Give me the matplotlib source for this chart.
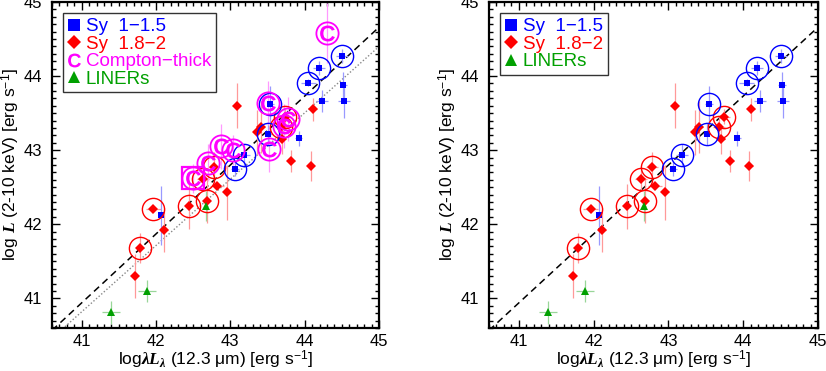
import numpy as np
import matplotlib
matplotlib.use("Agg")
import matplotlib.pyplot as plt
from matplotlib.ticker import MultipleLocator
from matplotlib.lines import Line2D

plt.rcParams['font.family'] = ['Liberation Sans', 'DejaVu Sans']
plt.rcParams['mathtext.fontset'] = 'custom'
plt.rcParams['mathtext.rm'] = 'Liberation Sans'
plt.rcParams['mathtext.it'] = 'Liberation Serif:italic:bold'
plt.rcParams['mathtext.bf'] = 'Liberation Sans:bold'

# ---------------- data ----------------
sy1_x = [44.50, 44.19, 44.05, 44.52, 44.23, 44.53, 43.54, 43.92, 43.51, 43.18, 43.06, 42.07]
sy1_y = [44.27, 44.11, 43.91, 43.88, 43.66, 43.66, 43.62, 43.16, 43.22, 42.94, 42.75, 42.12]
sy1_xerr = [0.08, 0.08, 0.10, 0.05, 0.08, 0.08, 0.05, 0.05, 0.05, 0.08, 0.05, 0.03]
sy1_yerr = [0.10, 0.10, 0.05, 0.18, 0.15, 0.22, 0.25, 0.10, 0.15, 0.15, 0.10, 0.40]
sy1_circled = [1, 1, 1, 0, 0, 0, 1, 0, 1, 1, 1, 0]

sy2_x = [43.09, 44.11, 43.74, 43.68, 43.36, 43.41, 43.70, 43.82, 44.08, 42.78, 42.63,
         42.82, 42.96, 42.44, 42.68, 41.96, 42.11, 41.79, 41.72]
sy2_y = [43.60, 43.55, 43.45, 43.31, 43.24, 43.31, 43.15, 42.85, 42.79, 42.77, 42.61,
         42.52, 42.43, 42.24, 42.32, 42.21, 41.92, 41.68, 41.30]
sy2_xerr = [0.03, 0.05, 0.08, 0.08, 0.05, 0.05, 0.05, 0.05, 0.05, 0.08, 0.08,
            0.10, 0.05, 0.05, 0.05, 0.10, 0.05, 0.05, 0.03]
sy2_yerr = [0.30, 0.15, 0.10, 0.15, 0.30, 0.35, 0.20, 0.15, 0.20, 0.20, 0.15,
            0.05, 0.37, 0.30, 0.30, 0.05, 0.30, 0.20, 0.30]
sy2_circled = [0, 0, 1, 1, 0, 0, 0, 0, 0, 1, 1, 0, 0, 1, 1, 1, 0, 1, 0]

liner_x = [42.67, 41.88, 41.39]
liner_y = [42.25, 41.10, 40.81]
liner_xerr = [0.03, 0.12, 0.12]
liner_yerr = [0.20, 0.15, 0.15]

ct_x = [44.30, 43.51, 43.78, 43.72, 43.52, 42.88, 43.04, 42.70, 42.50]
ct_y = [44.58, 43.64, 43.42, 43.33, 43.01, 43.05, 43.00, 42.83, 42.62]
ct_yerr = [0.40, 0.30, 0.30, 0.30, 0.30, 0.30, 0.20, 0.25, 0.20]
ct_boxed = [0, 0, 0, 0, 0, 0, 0, 0, 1]

# fitted relations
fit_slope, fit_x0, fit_y0 = 0.93, 43.0, 42.80       # dashed
alt_slope, alt_x0, alt_y0 = 0.895, 40.80, 40.64     # dotted (left panel)

xlim = (40.6, 45.0)
ylim = (40.6, 45.0)

BLUE, RED, GREEN, MAG = '#0000ff', '#ff0000', '#00a000', '#ff00ff'
LBLUE, LRED, LGREEN, LMAG = '#9999ff', '#ff9999', '#99d699', '#ff99ff'
CMARK = r'$\mathbf{C}$'

fig = plt.figure(figsize=(8.26, 3.71), dpi=100)
axL = fig.add_axes([52/826, 1-328/371, 327/826, 326/371])
axR = fig.add_axes([489/826, 1-328/371, 329/826, 326/371])


def base(ax, compton):
    xx = np.array(xlim)
    ax.plot(xx, fit_y0 + fit_slope*(xx-fit_x0), ls=(0, (4.5, 3)), color='k', lw=1.1, zorder=2)
    if compton:
        ax.plot(xx, alt_y0 + alt_slope*(xx-alt_x0), ls=(0, (1, 1.5)), color='#888888', lw=1.0, zorder=2)

    ax.errorbar(sy2_x, sy2_y, xerr=sy2_xerr, yerr=sy2_yerr, fmt='none', ecolor=LRED, elinewidth=0.9, zorder=3)
    ax.errorbar(sy1_x, sy1_y, xerr=sy1_xerr, yerr=sy1_yerr, fmt='none', ecolor=LBLUE, elinewidth=0.9, zorder=3)
    ax.errorbar(liner_x, liner_y, xerr=liner_xerr, yerr=liner_yerr, fmt='none', ecolor=LGREEN, elinewidth=0.9, zorder=3)
    if compton:
        ax.errorbar(ct_x, ct_y, yerr=ct_yerr, fmt='none', ecolor=LMAG, elinewidth=0.9, zorder=3)

    ax.plot(sy2_x, sy2_y, ls='none', marker='D', color=RED, ms=5.2, mew=0, zorder=5)
    ax.plot(sy1_x, sy1_y, ls='none', marker='s', color=BLUE, ms=5.0, mew=0, zorder=5)
    ax.plot(liner_x, liner_y, ls='none', marker='^', color=GREEN, ms=6.0, mew=0, zorder=5)

    cx = [x for x, c in zip(sy2_x, sy2_circled) if c]
    cy = [y for y, c in zip(sy2_y, sy2_circled) if c]
    ax.plot(cx, cy, ls='none', marker='o', mfc='none', mec=RED, ms=16, mew=1.0, zorder=6)
    cx = [x for x, c in zip(sy1_x, sy1_circled) if c]
    cy = [y for y, c in zip(sy1_y, sy1_circled) if c]
    ax.plot(cx, cy, ls='none', marker='o', mfc='none', mec=BLUE, ms=16, mew=1.0, zorder=6)

    if compton:
        ax.plot(ct_x, ct_y, ls='none', marker=CMARK, color=MAG, ms=11.5, mew=0, zorder=7)
        ax.plot(ct_x, ct_y, ls='none', marker='o', mfc='none', mec=MAG, ms=16, mew=1.3, zorder=7)
        bx = [x for x, b in zip(ct_x, ct_boxed) if b]
        by = [y for y, b in zip(ct_y, ct_boxed) if b]
        ax.plot(bx, by, ls='none', marker='s', mfc='none', mec=MAG, ms=16, mew=1.6, zorder=7)

    ax.set_xlim(*xlim)
    ax.set_ylim(*ylim)
    ax.xaxis.set_major_locator(MultipleLocator(1))
    ax.yaxis.set_major_locator(MultipleLocator(1))
    ax.xaxis.set_minor_locator(MultipleLocator(0.1))
    ax.yaxis.set_minor_locator(MultipleLocator(0.1))
    ax.tick_params(which='both', direction='in', top=True, right=True, width=1.0, labelsize=12)
    ax.tick_params(which='major', length=5.5)
    ax.tick_params(axis='x', which='major', pad=4)
    ax.tick_params(axis='y', which='major', pad=7)
    ax.tick_params(which='minor', length=3)
    for s in ax.spines.values():
        s.set_linewidth(1.6)
    ax.set_xlabel(r'log$\lambda L_\lambda$ (12.3 μm) [erg s$^{-1}$]', fontsize=12.5, labelpad=0)
    ax.set_ylabel(r'log $L$ (2-10 keV) [erg s$^{-1}$]', fontsize=12.5, labelpad=1)

    handles = [Line2D([], [], ls='none', marker='s', color=BLUE, ms=8, mew=0),
               Line2D([], [], ls='none', marker='D', color=RED, ms=7.5, mew=0)]
    labels = ['Sy  1\u22121.5', 'Sy  1.8\u22122']
    colors = [BLUE, RED]
    if compton:
        handles.append(Line2D([], [], ls='none', marker=CMARK, color=MAG, ms=10, mew=0))
        labels.append('Compton\u2212thick')
        colors.append(MAG)
    handles.append(Line2D([], [], ls='none', marker='^', color=GREEN, ms=8.5, mew=0))
    labels.append('LINERs')
    colors.append(GREEN)
    leg = ax.legend(handles, labels, loc='upper left', fontsize=13.5, frameon=True, fancybox=False,
                    edgecolor='k', handlelength=0.6, handletextpad=0.35, borderpad=0.25,
                    labelspacing=0.02, borderaxespad=0.6, bbox_to_anchor=(0.0, 1.0))
    leg.get_frame().set_linewidth(1.0)
    for t, c in zip(leg.get_texts(), colors):
        t.set_color(c)
    leg.set_zorder(10)


base(axL, True)
base(axR, False)

fig.savefig('out.png', dpi=100)
